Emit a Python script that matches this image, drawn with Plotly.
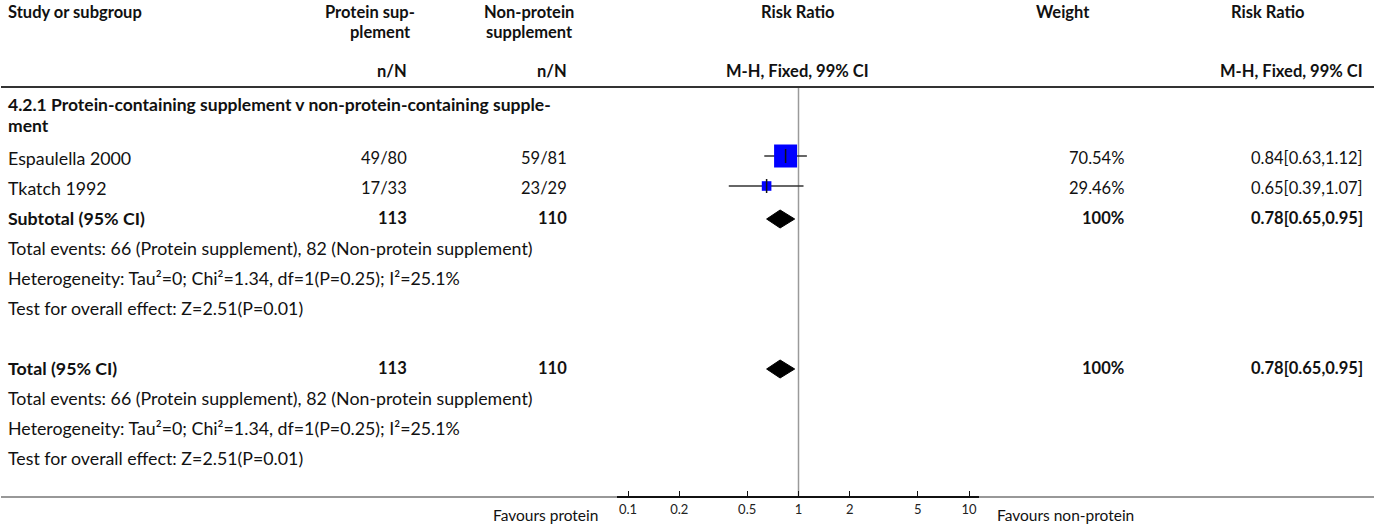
import plotly.graph_objects as go

W, H = 1375, 528
FONT = "Lato, 'Source Sans Pro', sans-serif"
FS = 17.8
FS_HEAD = 16.5
FS_NUM = 16.5

# ---------------- data ----------------
studies = ["Espaulella 2000", "Tkatch 1992"]
prot_nN = ["49/80", "17/33"]
nonprot_nN = ["59/81", "23/29"]
rr = [0.84, 0.65]
rr_lo = [0.63, 0.39]
rr_hi = [1.12, 1.07]
weights = [70.54, 29.46]
weight_txt = ["70.54%", "29.46%"]
rr_txt = ["0.84[0.63,1.12]", "0.65[0.39,1.07]"]

sub_label = "Subtotal (95% CI)"
tot_label = "Total (95% CI)"
pooled_N = ["113", "110"]
pooled_rr, pooled_lo, pooled_hi = 0.78, 0.65, 0.95
pooled_w = "100%"
pooled_txt = "0.78[0.65,0.95]"
stats_lines = [
    "Total events: 66 (Protein supplement), 82 (Non-protein supplement)",
    "Heterogeneity: Tau\u00b2=0; Chi\u00b2=1.34, df=1(P=0.25); I\u00b2=25.1%",
    "Test for overall effect: Z=2.51(P=0.01)",
]
group_title = ["4.2.1 Protein-containing supplement v non-protein-containing supple-", "ment"]
tick_vals = [0.1, 0.2, 0.5, 1, 2, 5, 10]
tick_text = ["0.1", "0.2", "0.5", "1", "2", "5", "10"]
left_fav = "Favours protein"
right_fav = "Favours non-protein"

# ---------------- layout constants (pixels) ----------------
X_TEXT = 6
X_PROT_R, X_NONP_R = 409, 569
X_W_R, X_RR_R = 1126, 1365
PLOT_L, PLOT_R = 617, 979
PX_DEC = 170.5
X_ONE = 798.5
ROW0, ROWH = 158, 30
Y_RULE, Y_AXIS = 87, 497


def ry(i):
    return ROW0 + ROWH * i


def px(x):
    return x / W


fig = go.Figure()
ann = []


def txt(x, y, s, anchor="left", bold=False, size=FS, color="#111"):
    ann.append(dict(x=px(x), y=y, xref="paper", yref="y", text=("<b>%s</b>" % s) if bold else s,
                    showarrow=False, xanchor=anchor, yanchor="middle",
                    font=dict(family=FONT, size=size, color=color)))


# header
txt(X_TEXT, 12, "Study or subgroup", bold=True, size=FS_HEAD)
txt(370, 12, "Protein sup-", "center", True, FS_HEAD)
txt(380, 32, "plement", "center", True, FS_HEAD)
txt(X_PROT_R, 71, "n/N", "right", True, FS_HEAD)
txt(529, 12, "Non-protein", "center", True, FS_HEAD)
txt(529, 32, "supplement", "center", True, FS_HEAD)
txt(X_NONP_R, 71, "n/N", "right", True, FS_HEAD)
txt(797.5, 12, "Risk Ratio", "center", True, FS_HEAD)
txt(797.5, 71, "M-H, Fixed, 99% CI", "center", True, FS_HEAD)
txt(1063, 12, "Weight", "center", True, FS_HEAD)
txt(1268, 12, "Risk Ratio", "center", True, FS_HEAD)
txt(X_RR_R, 71, "M-H, Fixed, 99% CI", "right", True, FS_HEAD)

# group title
txt(X_TEXT, 104, group_title[0], bold=True, size=17.5)
txt(X_TEXT, 125, group_title[1], bold=True, size=17.5)

# study rows
for i, s in enumerate(studies):
    y = ry(i)
    txt(X_TEXT, y, s)
    txt(X_PROT_R, y, prot_nN[i], "right", size=FS_NUM)
    txt(X_NONP_R, y, nonprot_nN[i], "right", size=FS_NUM)
    txt(X_W_R, y, weight_txt[i], "right", size=FS_NUM)
    txt(X_RR_R, y, rr_txt[i], "right", size=FS_NUM)

# pooled blocks
for start, label in [(2, sub_label), (7, tot_label)]:
    y = ry(start)
    txt(X_TEXT, y, label, bold=True)
    txt(X_PROT_R, y, pooled_N[0], "right", True, FS_NUM)
    txt(X_NONP_R, y, pooled_N[1], "right", True, FS_NUM)
    txt(X_W_R, y, pooled_w, "right", True, FS_NUM)
    txt(X_RR_R, y, pooled_txt, "right", True, FS_NUM)
    for k, line in enumerate(stats_lines):
        txt(X_TEXT, ry(start + 1 + k), line)

# favours labels
txt(600, 515, left_fav, "right", size=15.5)
txt(995, 515, right_fav, "left", size=15.5)

# line of no effect
fig.add_trace(go.Scatter(x=[1, 1], y=[Y_RULE + 1, Y_AXIS], mode="lines",
                         line=dict(color="#9a9a9a", width=1.5), hoverinfo="skip"))

# CIs
for i in range(len(studies)):
    y = ry(i) - 2
    fig.add_trace(go.Scatter(x=[rr_lo[i], rr_hi[i]], y=[y, y], mode="lines",
                             line=dict(color="#333", width=1.5), hoverinfo="skip"))
# squares
fig.add_trace(go.Scatter(x=rr, y=[ry(i) - 2 for i in range(len(rr))], mode="markers",
                         marker=dict(symbol="square", color="#0000ff", opacity=1,
                                     size=[w * 0.326 for w in weights], line=dict(width=0)),
                         hoverinfo="skip"))
# estimate ticks
fig.add_trace(go.Scatter(x=rr, y=[ry(i) - 2 for i in range(len(rr))], mode="markers",
                         marker=dict(symbol="line-ns-open", size=10, color="#111",
                                     line=dict(color="#111", width=1.5)),
                         hoverinfo="skip"))

# diamonds
for start in (2, 7):
    yc = ry(start) + 1
    fig.add_trace(go.Scatter(x=[pooled_lo, pooled_rr, pooled_hi, pooled_rr, pooled_lo],
                             y=[yc, yc - 9, yc, yc + 9, yc], mode="lines", fill="toself",
                             fillcolor="#000", line=dict(color="#000", width=1),
                             hoverinfo="skip"))

shapes = []
shapes.append(dict(type="line", xref="paper", yref="y", x0=px(1), x1=px(1374), y0=Y_RULE, y1=Y_RULE,
                   line=dict(color="#333", width=2)))
shapes.append(dict(type="line", xref="paper", yref="y", x0=px(1), x1=px(1374), y0=Y_AXIS, y1=Y_AXIS,
                   line=dict(color="#333", width=1.2), layer="below"))

lo_log = -(X_ONE - PLOT_L) / PX_DEC
hi_log = (PLOT_R - X_ONE) / PX_DEC

fig.update_layout(
    width=W, height=H, margin=dict(l=0, r=0, t=0, b=0),
    paper_bgcolor="white", plot_bgcolor="white", showlegend=False,
    annotations=ann, shapes=shapes,
    xaxis=dict(domain=[PLOT_L / W, PLOT_R / W], type="log", range=[lo_log, hi_log],
               tickvals=tick_vals, ticktext=tick_text, ticks="inside", ticklen=5,
               tickcolor="#111", tickwidth=1, showline=True, linecolor="#111", linewidth=2,
               showgrid=False, zeroline=False, anchor="free", position=1 - Y_AXIS / H,
               tickfont=dict(family=FONT, size=13, color="#222"), fixedrange=True),
    yaxis=dict(domain=[0, 1], range=[H, 0], visible=False, fixedrange=True),
)

fig.write_html("out.html")
